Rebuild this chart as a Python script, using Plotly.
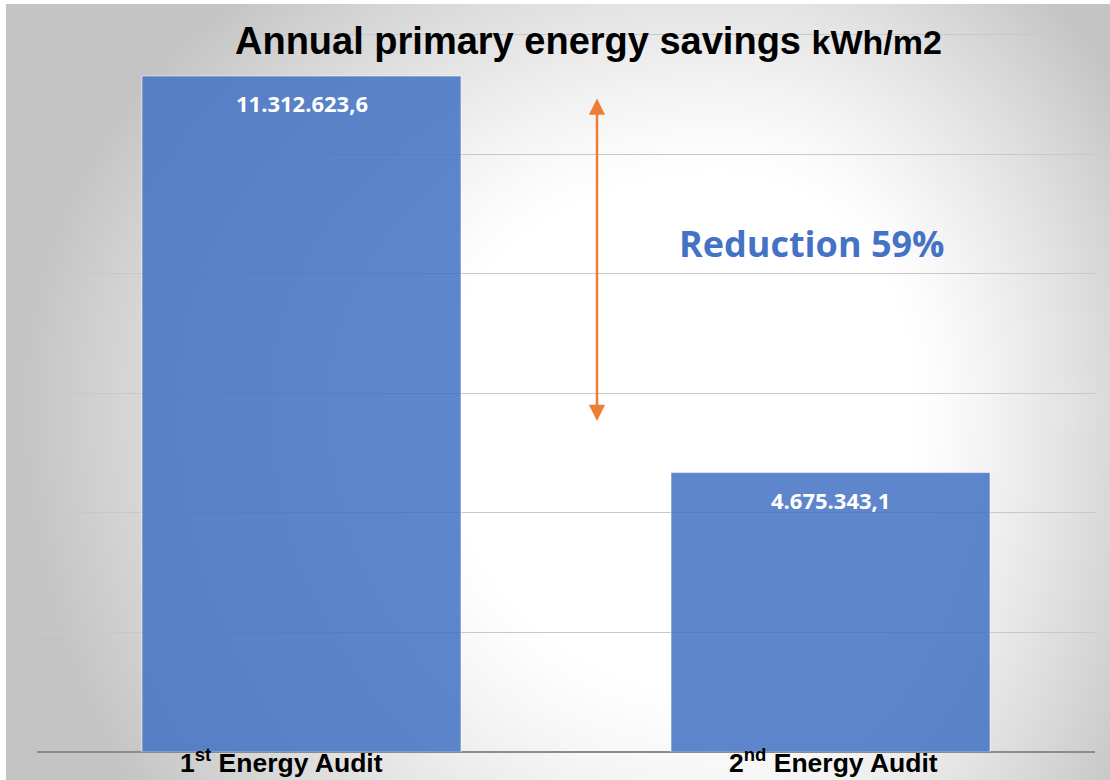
import numpy as np
import plotly.graph_objects as go

# ---- data ----
categories = ["1st Energy Audit", "2nd Energy Audit"]
tick_labels = ["<b>1<sup>st</sup> Energy Audit</b>", "<b>2<sup>nd</sup> Energy Audit</b>"]
label_shift = [-20, 3]
values = [11312623.6, 4675343.1]
reduction_label = "Reduction 59%"
title_main = "Annual primary energy savings"
title_unit = "kWh/m2"
arrow_x = 0.5586
arrow_top = 10960000
arrow_bottom = 5540000
y_max = 12.25e6
grid_step = 2e6

W, H = 1110, 780
L, R = 37, 1095
T, B = 20, 752


def fmt(v):
    s = f"{v:,.1f}"
    return s.replace(",", "_").replace(".", ",").replace("_", ".")


# ---- background radial gradient ----
xs = np.linspace(0, W, 112)
ys = np.linspace(0, H, 79)
X, Y = np.meshgrid(xs, ys)
cx, cy = 720, 400
dx = np.where(X < cx, (X - cx) / 700, (X - cx) / 480)
dy = np.where(Y < cy, (Y - cy) / 560, (Y - cy) / 720)
r = np.sqrt(dx ** 2 + dy ** 2)
f = np.clip((r - 0.4) / 0.6, 0, 1) ** 1.2
z = 1 - f

fig = go.Figure()
fig.add_trace(go.Heatmap(
    x=xs, y=ys, z=z, zsmooth="best",
    colorscale=[[0, "rgb(196,196,196)"], [1, "rgb(255,255,255)"]],
    zmin=0, zmax=1, showscale=False, hoverinfo="skip",
    xaxis="x", yaxis="y"))

fig.add_trace(go.Bar(
    x=categories, y=values, xaxis="x2", yaxis="y2", width=0.603,
    marker=dict(color="rgba(68,114,196,0.86)",
                line=dict(color="rgba(255,255,255,0.55)", width=1)),
    hoverinfo="skip"))

annotations = []
for c, v in zip(categories, values):
    annotations.append(dict(
        xref="x2", yref="y2", x=c, y=v, yshift=-27, yanchor="middle",
        text="<b>" + fmt(v) + "</b>", showarrow=False,
        font=dict(family="Open Sans", size=22, color="white")))

for c, t, s in zip(categories, tick_labels, label_shift):
    annotations.append(dict(
        xref="x2", yref="paper", x=c, y=1 - 761 / H, xshift=s,
        xanchor="center", yanchor="middle", text=t, showarrow=False,
        font=dict(family="Liberation Sans, Arial", size=26.5, color="black")))

annotations.append(dict(
    xref="x2", yref="y2", axref="x2", ayref="y2",
    x=arrow_x, y=arrow_bottom, ax=arrow_x, ay=arrow_top,
    text="", showarrow=True, arrowhead=2, startarrowhead=2,
    arrowside="end+start", arrowsize=1.3, arrowwidth=2.5,
    arrowcolor="#ED7D31"))

annotations.append(dict(
    xref="paper", yref="paper", x=812 / W, y=1 - 243 / H,
    xanchor="center", yanchor="middle",
    text="<b>" + reduction_label + "</b>", showarrow=False,
    font=dict(family="Open Sans", size=36, color="#4472C4")))

annotations.append(dict(
    xref="paper", yref="paper", x=588.5 / W, y=1 - 41 / H,
    xanchor="center", yanchor="middle",
    text="<b>" + title_main + " <span style='font-size:34px'>" + title_unit + "</span></b>",
    showarrow=False,
    font=dict(family="Liberation Sans, Arial", size=38, color="black")))

fig.update_layout(
    width=W, height=H,
    margin=dict(l=0, r=0, t=0, b=0),
    paper_bgcolor="white",
    plot_bgcolor="rgba(0,0,0,0)",
    showlegend=False,
    annotations=annotations,
    xaxis=dict(domain=[0, 1], range=[0, W], visible=False, fixedrange=True),
    yaxis=dict(domain=[0, 1], range=[H, 0], visible=False, fixedrange=True),
    xaxis2=dict(domain=[L / W, R / W], anchor="y2", range=[-0.5, 1.5],
                showticklabels=False, showgrid=False, showline=False,
                zeroline=False, ticks="", automargin=False, fixedrange=True),
    yaxis2=dict(domain=[1 - B / H, 1 - T / H], anchor="x2", range=[0, y_max],
                dtick=grid_step, tick0=0, showgrid=True, gridcolor="#c8c8c8",
                gridwidth=1.3, zeroline=True, zerolinecolor="#8c8c8c",
                zerolinewidth=2, showticklabels=False, ticks="", automargin=False,
                fixedrange=True),
    shapes=[
        dict(type="rect", xref="paper", yref="paper", x0=0, x1=6 / W, y0=0, y1=1,
             fillcolor="white", line=dict(width=0), layer="above"),
        dict(type="rect", xref="paper", yref="paper", x0=0, x1=1, y0=1 - 4 / H, y1=1,
             fillcolor="white", line=dict(width=0), layer="above"),
    ],
)

fig.write_html("out.html", config={"displayModeBar": False},
               post_script="document.body.style.margin='0';document.body.style.overflow='hidden';")
